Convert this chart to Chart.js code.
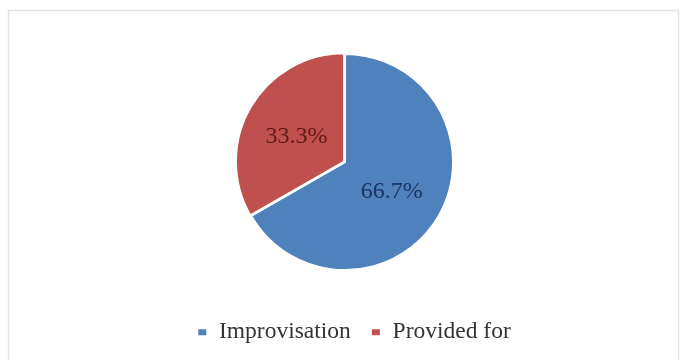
<!DOCTYPE html>
<html lang="en">

<head>
    <meta charset="UTF-8">
    <title>Pie</title>
    <script src="https://cdn.jsdelivr.net/npm/chart.js"></script>
    <style>
        body { margin: 0; background: #fff; }
        #wrap { width: 686px; height: 360px; }
    </style>
</head>

<body>
    <div id="wrap">
        <canvas id="graficoPizza" width="686" height="360"></canvas>
    </div>

<script>
    // categorias e valores (%)
    const categorias = ["Improvisation", "Provided for"];
    const valores = [66.7, 33.3];
    const cores = ["#4f81bd", "#c0504d"];
    const coresTexto = ["#1c3563", "#5e1a1a"];

    const fonteSerif = '"Liberation Serif", "Times New Roman", serif';

    // fundo branco + moldura cinza clara
    const moldura = {
        id: 'moldura',
        beforeDraw(chart) {
            const ctx = chart.ctx;
            ctx.save();
            ctx.fillStyle = '#fff';
            ctx.fillRect(0, 0, chart.width, chart.height);
            ctx.strokeStyle = '#e4e4e4';
            ctx.lineWidth = 1.5;
            ctx.strokeRect(8.5, 10.5, 670, 360);
            ctx.restore();
        }
    };

    // legenda um pouco deslocada para a direita
    const ajusteLegenda = {
        id: 'ajusteLegenda',
        afterLayout(chart) {
            chart.legend.left += 9;
            chart.legend.right += 9;
        }
    };

    // porcentagem no meio de cada fatia
    const rotulos = {
        id: 'rotulos',
        afterDatasetsDraw(chart) {
            const ctx = chart.ctx;
            const meta = chart.getDatasetMeta(0);
            ctx.save();
            ctx.font = '24px ' + fonteSerif;
            ctx.textAlign = 'center';
            ctx.textBaseline = 'middle';
            meta.data.forEach(function (arco, i) {
                const pos = arco.tooltipPosition();
                ctx.fillStyle = coresTexto[i];
                ctx.fillText(valores[i].toFixed(1) + '%', pos.x, pos.y + 3);
            });
            ctx.restore();
        }
    };

    const config = {
        type: 'pie',
        data: {
            labels: categorias,
            datasets: [{
                data: valores,
                backgroundColor: cores,
                borderColor: '#fff',
                borderWidth: 2,
                offset: [0, 4]
            }]
        },
        options: {
            responsive: false,
            animation: false,
            layout: {
                padding: { top: 51, bottom: 6, left: 4, right: 0 }
            },
            plugins: {
                tooltip: { enabled: false },
                legend: {
                    position: 'bottom',
                    title: {
                        display: true,
                        text: ' ',
                        padding: { top: 4, bottom: 9 },
                        font: { size: 12 }
                    },
                    labels: {
                        boxWidth: 10,
                        boxHeight: 8,
                        padding: 20,
                        color: '#333',
                        font: { family: fonteSerif, size: 23.5 }
                    }
                }
            }
        },
        plugins: [moldura, ajusteLegenda, rotulos]
    };

    let grafico = new Chart(document.getElementById('graficoPizza'), config);
</script>
</body>

</html>
